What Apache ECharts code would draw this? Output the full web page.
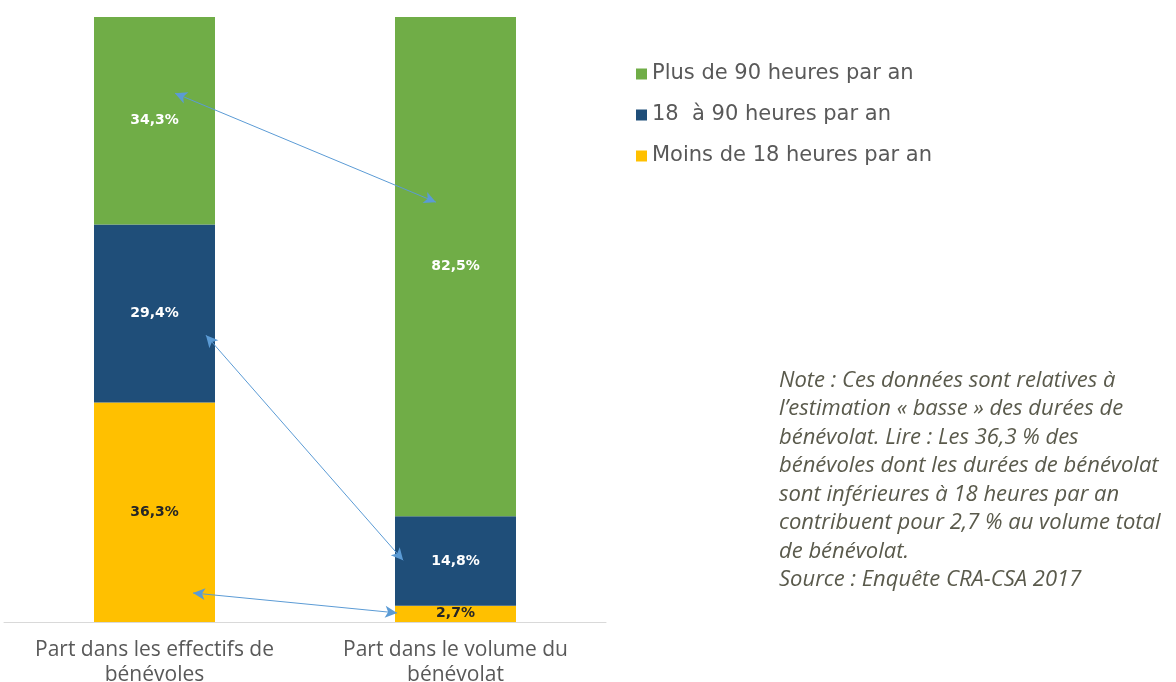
<!DOCTYPE html>
<html>
<head>
<meta charset="utf-8">
<script src="https://cdn.jsdelivr.net/npm/echarts@6/dist/echarts.min.js"></script>
<style>
  html, body { margin: 0; padding: 0; background: #fff; }
  #chart { width: 1176px; height: 682px; }
</style>
</head>
<body>
<div id="chart"></div>
<script>
const categories = ['Part dans les effectifs de\nbénévoles', 'Part dans le volume du\nbénévolat']
const seriesNames = ['Plus de 90 heures par an', '18  à 90 heures par an', 'Moins de 18 heures par an']
const plus90 = [34.3, 82.5]
const de18a90 = [29.4, 14.8]
const moins18 = [36.3, 2.7]

// arrows linking the two bars, in data units (x: category index, y: % of stack)
const arrows = [
  [[0.068, 87.4], [0.935, 69.4]],
  [[0.171, 47.4], [0.826, 10.2]],
  [[0.128, 4.8], [0.806, 1.5]],
]

const noteLines = [
  'Note : Ces données sont relatives à',
  'l’estimation « basse » des durées de',
  'bénévolat. Lire : Les 36,3 % des',
  'bénévoles dont les durées de bénévolat',
  'sont inférieures à 18 heures par an',
  'contribuent pour 2,7 % au volume total',
  'de bénévolat.',
  'Source : Enquête CRA-CSA 2017',
]

const fmt = (p) => String(p.value).replace('.', ',') + '%'

const barSeries = (name, data, color, labelColor) => ({
  type: 'bar',
  name,
  stack: 'total',
  data,
  barWidth: 121,
  itemStyle: { color },
  label: {
    show: true,
    position: 'inside',
    formatter: fmt,
    color: labelColor,
    fontFamily: 'DejaVu Sans',
    fontWeight: 'bold',
    fontSize: 14,
  },
})

const chart = echarts.init(document.getElementById('chart'))

chart.setOption({
  animation: false,
  grid: { left: 4, right: 570, top: 17, bottom: 60, outerBoundsMode: 'none', containLabel: false },
  legend: {
    orient: 'vertical',
    left: 631,
    top: 58,
    data: seriesNames,
    icon: 'rect',
    itemWidth: 11,
    itemHeight: 11,
    itemGap: 19,
    textStyle: { fontFamily: 'DejaVu Sans', fontSize: 21, color: '#595959', lineHeight: 22 },
    selectedMode: false,
  },
  xAxis: [
    {
      type: 'category',
      data: categories,
      axisLine: { lineStyle: { color: '#d9d9d9', width: 1 } },
      axisTick: { show: false },
      axisLabel: {
        fontFamily: 'Open Sans',
        fontSize: 21,
        color: '#595959',
        lineHeight: 25,
        margin: 16,
        interval: 0,
      },
    },
    { type: 'value', min: -0.5, max: 1.5, show: false },
  ],
  yAxis: { type: 'value', min: 0, max: 100, show: false },
  series: [
    barSeries(seriesNames[2], moins18, '#FFC000', '#262626'),
    barSeries(seriesNames[1], de18a90, '#1F4E79', '#ffffff'),
    barSeries(seriesNames[0], plus90, '#70AD47', '#ffffff'),
    {
      type: 'line',
      name: 'arrows',
      xAxisIndex: 1,
      data: [],
      silent: true,
      markLine: {
        silent: true,
        symbol: ['arrow', 'arrow'],
        symbolSize: [9, 12],
        label: { show: false },
        lineStyle: { color: '#5B9BD5', width: 1, type: 'solid' },
        data: arrows.map(([a, b]) => [{ coord: a }, { coord: b }]),
      },
    },
  ],
  graphic: [
    {
      type: 'text',
      left: 779,
      top: 366,
      style: {
        text: noteLines.join('\n'),
        fontFamily: 'Open Sans',
        fontStyle: 'italic',
        fontSize: 22,
        lineHeight: 28.5,
        fill: '#5a5a4c',
      },
    },
  ],
})
</script>
</body>
</html>
